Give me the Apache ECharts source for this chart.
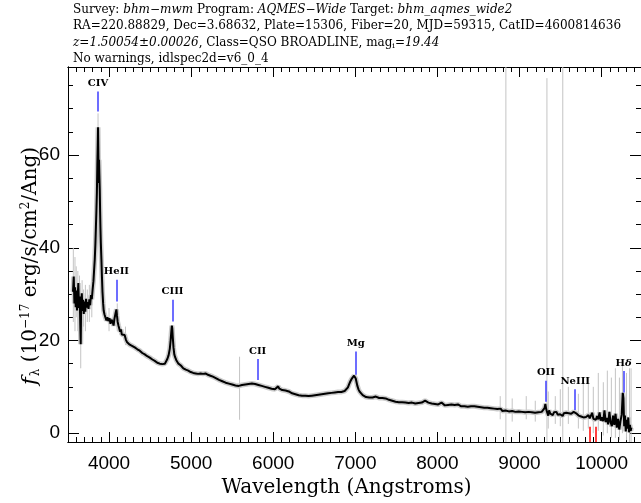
<!DOCTYPE html>
<html>
<head>
<meta charset="utf-8">
<script src="https://cdn.jsdelivr.net/npm/echarts@6/dist/echarts.min.js"></script>
<style>
  html, body { margin: 0; padding: 0; background: #fff; }
  #spec { width: 641px; height: 503px; }
</style>
</head>
<body>
<div id="spec"></div>
<script>
// wavelength (Angstroms) and smoothed flux
var specWave = [3561,3570,3578,3586,3594,3602,3610,3618,3626,3634,3642,3650,3655,3660,3668,3676,3684,3692,3700,3710,
  3720,3730,3740,3750,3760,3770,3780,3790,3800,3810,3818,3826,3834,3840,3846,3852,3857,3862,3866,3870,
  3874,3878,3882,3887,3891,3895,3900,3907,3914,3920,3928,3935,3945,3955,3968,3980,3992,4005,4018,4030,
  4045,4055,4065,4075,4083,4090,4097,4105,4115,4125,4135,4145,4155,4165,4175,4190,4205,4220,4235,4252,
  4268,4285,4300,4313,4330,4345,4360,4374,4390,4405,4420,4435,4450,4465,4480,4496,4512,4528,4542,4557,
  4572,4588,4603,4618,4635,4650,4665,4680,4695,4710,4725,4740,4750,4758,4765,4770,4777,4785,4795,4805,
  4818,4830,4845,4860,4875,4890,4905,4920,4935,4950,4965,4980,4995,5010,5025,5040,5055,5070,5085,5100,
  5115,5130,5145,5160,5175,5190,5205,5220,5235,5250,5265,5280,5300,5320,5340,5360,5380,5400,5420,5440,
  5460,5480,5500,5520,5540,5560,5580,5600,5620,5640,5660,5680,5700,5720,5740,5760,5780,5800,5820,5840,
  5860,5880,5900,5920,5940,5960,5980,6000,6020,6040,6060,6075,6090,6110,6130,6150,6170,6190,6210,6230,
  6250,6270,6290,6310,6330,6350,6370,6390,6410,6430,6450,6470,6490,6510,6530,6550,6570,6590,6610,6630,
  6650,6670,6690,6710,6730,6750,6770,6790,6810,6830,6850,6870,6890,6910,6925,6940,6955,6970,6985,6995,
  7005,7015,7025,7040,7055,7070,7090,7110,7130,7150,7170,7190,7210,7230,7250,7270,7290,7310,7330,7350,
  7370,7390,7410,7430,7450,7470,7490,7510,7530,7550,7570,7590,7610,7630,7650,7670,7690,7710,7730,7750,
  7770,7790,7810,7830,7850,7870,7890,7910,7930,7950,7970,7990,8010,8030,8050,8070,8090,8110,8130,8150,
  8170,8190,8210,8230,8250,8270,8290,8310,8330,8350,8370,8390,8410,8430,8450,8470,8490,8510,8530,8550,
  8570,8590,8610,8630,8650,8670,8690,8710,8730,8750,8770,8790,8810,8830,8850,8870,8890,8910,8930,8950,
  8970,8990,9010,9030,9050,9070,9090,9110,9130,9150,9170,9190,9210,9230,9250,9270,9290,9305,9315,9325,
  9335,9350,9360,9375,9390,9405,9420,9435,9450,9465,9480,9495,9510,9525,9540,9555,9570,9585,9600,9615,
  9630,9645,9660,9675,9690,9705,9720,9735,9750,9765,9780,9795,9810,9825,9840,9855,9870,9885,9900,9915,
  9930,9945,9960,9975,9990,10005,10020,10035,10050,10065,10080,10095,10110,10125,10140,10155,10170,10185,10200,10215,
  10230,10245,10258,10266,10275,10285,10295,10305,10315,10325,10335,10345,10355,10363];
var specFlux = [30.5,33.8,28.0,31.5,27.2,30.8,26.5,29.6,32.4,27.0,29.5,23.0,19.2,27.5,30.2,26.4,28.8,25.7,28.4,26.2,
  29.0,27.1,28.3,26.8,28.9,27.6,29.8,28.9,31.0,32.8,35.2,37.5,41.0,44.5,48.0,52.0,57.5,62.0,66.0,60.5,
  54.0,59.0,56.0,52.5,48.0,44.5,41.0,37.5,33.5,30.5,28.0,26.4,25.6,25.0,24.3,25.0,24.2,24.8,23.6,24.5,
  24.0,23.2,24.6,25.0,26.2,26.7,25.3,24.0,23.2,22.8,21.9,22.4,21.3,21.7,20.9,21.2,20.2,19.6,19.9,19.1,
  19.5,18.8,19.0,18.5,18.9,18.1,18.4,17.8,18.0,17.3,17.6,17.0,17.2,16.6,16.9,16.3,16.5,15.9,16.2,15.6,
  15.9,15.2,15.5,15.0,15.3,14.9,15.2,15.0,15.4,16.0,16.8,18.2,20.0,21.8,23.2,22.6,20.5,18.5,17.0,16.4,
  15.8,15.5,15.0,14.8,14.6,14.3,14.0,13.8,13.7,13.4,13.5,13.1,13.2,12.9,13.0,12.7,12.9,12.6,12.8,12.5,
  12.9,13.1,12.8,13.2,12.9,13.0,12.6,12.8,12.4,12.5,12.2,12.3,11.9,11.8,11.5,11.6,11.2,11.3,10.9,11.0,
  10.7,10.8,10.5,10.6,10.3,10.5,10.2,10.6,10.4,10.7,10.5,10.8,10.6,10.9,10.7,10.9,10.6,10.8,10.4,10.5,
  10.2,10.3,10.0,10.1,9.8,9.9,9.6,9.7,9.5,9.7,10.1,9.6,9.4,9.3,9.1,9.2,8.9,9.0,8.7,8.6,
  8.5,8.4,8.3,8.2,8.3,8.1,8.0,8.1,7.9,8.0,8.0,8.1,8.0,8.2,8.1,8.3,8.2,8.4,8.3,8.5,
  8.4,8.6,8.5,8.7,8.6,8.8,8.7,8.9,8.8,8.9,9.0,9.1,9.5,9.9,10.6,11.2,11.7,12.1,12.4,12.3,
  11.8,11.0,10.2,9.4,8.9,8.5,8.2,7.9,7.8,7.6,7.7,7.5,7.7,7.6,7.9,7.7,7.6,7.5,7.6,7.4,
  7.5,7.3,7.2,7.1,7.0,6.9,6.8,6.9,6.7,6.6,6.7,6.5,6.6,6.4,6.5,6.4,6.6,6.5,6.4,6.6,
  6.5,6.7,6.6,6.8,7.0,6.7,6.6,6.5,6.4,6.5,6.3,6.4,6.2,6.3,6.6,6.2,6.0,6.3,6.1,6.4,
  6.2,6.0,6.1,5.9,6.2,6.0,5.8,6.1,5.8,5.9,5.7,6.0,5.8,5.6,5.8,5.5,5.7,5.4,5.6,5.3,
  5.5,5.3,5.5,5.2,5.4,5.1,5.3,5.0,5.2,4.9,5.3,4.8,5.1,4.9,5.0,4.7,5.1,4.8,4.9,4.6,
  5.0,4.7,4.8,4.6,4.9,4.5,4.8,4.6,4.9,4.5,4.7,4.4,4.8,4.5,4.7,4.6,4.8,5.4,6.3,5.2,
  4.6,3.8,4.9,4.2,4.6,3.9,4.5,4.2,4.6,4.0,4.4,4.1,4.5,3.7,4.3,4.0,4.4,4.1,4.3,3.9,
  4.2,4.3,4.6,4.8,4.3,4.1,3.8,4.0,3.6,3.9,3.4,3.8,3.5,3.3,3.9,3.2,3.6,4.4,3.1,3.5,
  2.9,3.7,3.0,4.5,2.7,3.4,2.6,4.9,2.4,3.3,1.9,4.6,2.3,1.5,3.8,1.8,4.2,1.2,3.1,0.8,
  2.6,4.0,8.7,7.5,1.5,3.8,0.4,2.9,1.0,3.4,0.2,1.8,0.5,1.2];

// raw-flux excursions drawn in grey (wavelength, low, high)
var greyWave = [3565,3585,3600,3620,3640,3655,3672,3690,3712,3735,3760,3790,3850,3866,3900,4000,4100,4200,5590,
  8765,8834,8911,9082,9192,9334,9350,9436,9497,9527,9595,9717,9777,9838,9899,9960,10021,10070,10119,10168,10217,10254,10303,10340,10359];
var greyLow  = [24,22,25,22,24,14,22,23,22,24,24,25,45,62,38,22,22,19,2.9,
  3,-1.9,2.5,3,2.5,-1.9,1,2,1.5,-1.9,2,1,0.5,1,0,0.5,-0.5,0,-1,-1,-1.5,0,-1.5,-1.9,-1.9];
var greyHigh = [40,38,36,35,34,30,33,31,32,31,32,33,58,69,46,27,28,23,16.5,
  8,79,7.5,8,7,76.6,9,8,9.5,79,10,8.5,11,12,10,13,11,13.5,12,14,12,15,13,14,14];

// emission line markers
var lineNames = ['CIV','HeII','CIII','CII','Mg','OII','NeIII','H{d|δ}'];
var lineWave  = [3866,4090,4773,5810,7005,9322,9679,10268];
var lineLow   = [69.4,28.4,24.1,11.5,12.6,6.8,5.0,8.8];
var lineHigh  = [73.7,33.1,28.8,16.0,17.6,11.3,9.5,13.4];

// red markers at the bottom
var redWave = [9854,9923];
var redLow  = [-1.9,-1.9];
var redHigh = [1.4,1.4];

var xMajor = [4000,5000,6000,7000,8000,9000,10000];
var yMajor = [0,20,40,60];
var yMinor = [5,10,15,25,30,35,45,50,55,65,70,75];

var XMIN = 3500, XMAX = 10480, YMIN = -1.9, YMAX = 79;

var dom = document.getElementById('spec');
var myChart = echarts.init(dom, null, {renderer: 'canvas'});

var specData = specWave.map(function (w, i) { return [w, specFlux[i]]; });
var greyData = greyWave.map(function (w, i) { return [w, greyLow[i], greyHigh[i]]; });

function markSegs(waves, lows, highs, names) {
    return waves.map(function (w, i) {
        return [
            {coord: [w, lows[i]], name: names ? names[i] : ''},
            {coord: [w, highs[i]]}
        ];
    });
}

var serif = 'DejaVu Serif';
var sans = 'Liberation Sans';

function plain(v) { return String(v); }

function xAx(pos, minor, withLabel) {
    var ax = {
        type: 'value', position: pos, min: XMIN, max: XMAX,
        axisLine: {show: true, onZero: false, lineStyle: {color: '#000', width: 1}},
        splitLine: {show: false},
        axisTick: {show: true, inside: true, length: minor ? 5 : 10, lineStyle: {color: '#000'}},
        axisLabel: {show: !!withLabel, formatter: plain, color: '#000', fontFamily: sans, fontSize: 19, margin: 12}
    };
    if (minor) {
        ax.interval = 100;
    } else {
        ax.axisTick.customValues = xMajor;
        ax.axisLabel.customValues = xMajor;
    }
    return ax;
}

function yAx(pos, minor, withLabel) {
    var vals = minor ? yMinor : yMajor;
    return {
        type: 'value', position: pos, min: YMIN, max: YMAX,
        axisLine: {show: true, onZero: false, lineStyle: {color: '#000', width: 1}},
        splitLine: {show: false},
        axisTick: {show: true, inside: true, length: minor ? 5 : 11, customValues: vals, lineStyle: {color: '#000'}},
        axisLabel: {show: !!withLabel, customValues: vals, formatter: plain, color: '#000', fontFamily: sans, fontSize: 19, margin: 8}
    };
}

var xBottom = xAx('bottom', false, true);
xBottom.name = 'Wavelength (Angstroms)';
xBottom.nameLocation = 'middle';
xBottom.nameGap = 30;
xBottom.nameTextStyle = {fontFamily: serif, fontSize: 20, color: '#000', padding: [0, 16, 0, 0]};

var headRich = {
    i: {fontFamily: serif, fontStyle: 'italic', fontSize: 12, fill: '#000'},
    sub: {fontFamily: serif, fontSize: 8, fill: '#000', padding: [6, 0, 0, 0]}
};
var headLines = [
    'Survey: {i|bhm−mwm} Program: {i|AQMES−Wide} Target: {i|bhm_aqmes_wide2}',
    'RA=220.88829, Dec=3.68632, Plate=15306, Fiber=20, MJD=59315, CatID=4600814636',
    '{i|z=1.50054±0.00026}, Class=QSO BROADLINE, mag{sub|i}={i|19.44}',
    'No warnings, idlspec2d=v6_0_4'
];

var graphics = headLines.map(function (t, i) {
    return {
        type: 'text', left: 73, top: 4 + i * 16.3,
        style: {text: t, fontFamily: serif, fontSize: 12, fill: '#000', rich: headRich}
    };
});
// rotated y-axis title
graphics.push({
    type: 'text', x: 31, y: 266, rotation: Math.PI / 2,
    style: {
        text: '{i|f}{sub|λ} (10{sup|−17} erg/s/cm{sup|2}/Ang)',
        fontFamily: serif, fontSize: 20, fill: '#000', align: 'center', verticalAlign: 'middle',
        rich: {
            i: {fontFamily: serif, fontStyle: 'italic', fontSize: 21, fill: '#000'},
            sub: {fontFamily: serif, fontSize: 12, fill: '#000', padding: [9, 0, 0, 1]},
            sup: {fontFamily: serif, fontSize: 12, fill: '#000', padding: [0, 0, 11, 0]}
        }
    }
});

var option = {
    animation: false,
    backgroundColor: '#fff',
    grid: {left: 68, right: 0, top: 67, bottom: 61, containLabel: false},
    graphic: graphics,
    xAxis: [xBottom, xAx('bottom', true, false), xAx('top', false, false), xAx('top', true, false)],
    yAxis: [yAx('left', false, true), yAx('left', true, false), yAx('right', false, false), yAx('right', true, false)],
    series: [
        {
            type: 'custom', name: 'raw', xAxisIndex: 0, yAxisIndex: 0, clip: true, z: 1,
            data: greyData,
            renderItem: function (params, api) {
                var p1 = api.coord([api.value(0), api.value(1)]);
                var p2 = api.coord([api.value(0), api.value(2)]);
                return {type: 'line', shape: {x1: p1[0], y1: p1[1], x2: p2[0], y2: p2[1]},
                        style: {stroke: '#c4c4c4', lineWidth: 1}};
            }
        },
        {
            type: 'line', name: 'halo', data: specData, showSymbol: false, symbol: 'none', z: 2,
            lineStyle: {color: '#cbcbcb', width: 5}, silent: true, clip: true
        },
        {
            type: 'line', name: 'flux', data: specData, showSymbol: false, symbol: 'none', z: 3,
            lineStyle: {color: '#000', width: 2}, silent: true, clip: true,
            markLine: {
                silent: true, symbol: 'none', animation: false,
                lineStyle: {color: '#3c3cff', width: 1.5, type: 'solid'},
                label: {
                    show: true, position: 'end', distance: 3, formatter: '{b}',
                    fontFamily: serif, fontSize: 10, fontWeight: 'bold', color: '#000',
                    rich: {d: {fontFamily: serif, fontStyle: 'italic', fontSize: 10, fontWeight: 'bold', color: '#000'}}
                },
                data: markSegs(lineWave, lineLow, lineHigh, lineNames)
            }
        },
        {
            type: 'line', name: 'red', data: [], z: 4,
            markLine: {
                silent: true, symbol: 'none', animation: false,
                lineStyle: {color: '#ff0000', width: 1.5, type: 'solid'},
                label: {show: false},
                data: markSegs(redWave, redLow, redHigh)
            }
        }
    ]
};

myChart.setOption(option);
</script>
</body>
</html>
